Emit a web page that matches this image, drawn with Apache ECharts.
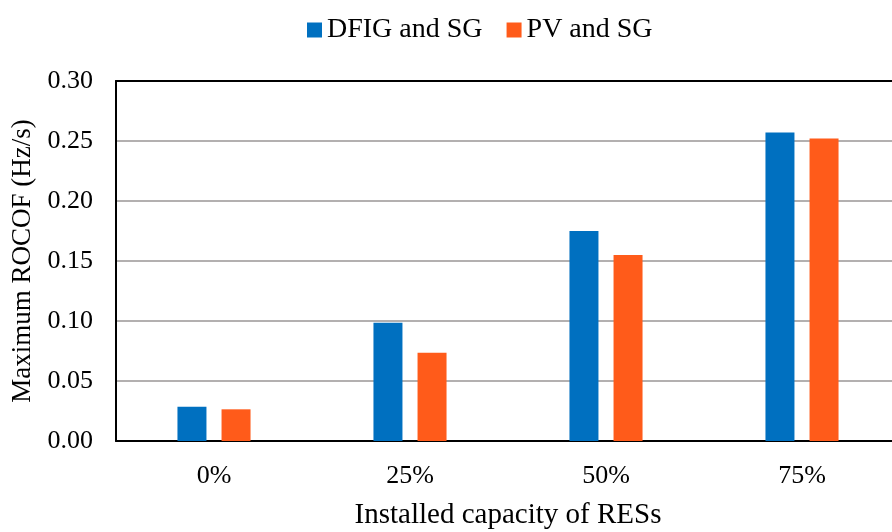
<!DOCTYPE html>
<html><head><meta charset="utf-8">
<script src="https://cdn.jsdelivr.net/npm/echarts@6/dist/echarts.min.js"></script>
<style>html,body{margin:0;padding:0;background:#fff}#c{width:892px;height:532px}</style>
</head><body><div id="c"></div>
<script>
const categories = ['0%', '25%', '50%', '75%'];
const dfigSG = [0.0286, 0.0985, 0.175, 0.257];
const pvSG = [0.0264, 0.0735, 0.155, 0.252];
const yTicks = [0, 0.05, 0.10, 0.15, 0.20, 0.25, 0.30];

const font = 'Liberation Serif';
const chart = echarts.init(document.getElementById('c'));
chart.setOption({
  animation: false,
  backgroundColor: '#fff',
  legend: {
    top: 11, left: 302,
    itemWidth: 15, itemHeight: 15, itemGap: 24,
    icon: 'rect',
    textStyle: { fontFamily: font, fontSize: 28, color: '#000' },
    data: ['DFIG and SG', 'PV and SG']
  },
  grid: { left: 116, top: 81, width: 784, bottom: 91, show: false,
    containLabel: false, outerBoundsMode: 'none' },
  xAxis: [{
    type: 'category', data: categories,
    axisLine: { lineStyle: { color: '#000', width: 2 } },
    axisTick: { show: false },
    axisLabel: { fontFamily: font, fontSize: 26, color: '#000', margin: 22 },
    name: 'Installed capacity of RESs', nameLocation: 'middle', nameGap: 60,
    nameTextStyle: { fontFamily: font, fontSize: 29, color: '#000' }
  }, {
    type: 'category', data: categories, position: 'top',
    axisLine: { show: true, lineStyle: { color: '#000', width: 2 } },
    axisTick: { show: false }, axisLabel: { show: false }, splitLine: { show: false }
  }],
  yAxis: {
    type: 'value', min: 0, max: 0.30, interval: 0.05,
    axisLine: { show: true, lineStyle: { color: '#000', width: 2 } },
    axisTick: { show: false },
    splitLine: { lineStyle: { color: '#B3B0B0', width: 2 } },
    axisLabel: { fontFamily: font, fontSize: 26, color: '#000', margin: 23,
      formatter: v => { const t = yTicks.find(x => Math.abs(x - v) < 1e-9); return (t === undefined ? v : t).toFixed(2); } },
    name: 'Maximum ROCOF (Hz/s)', nameLocation: 'middle', nameGap: 78,
    nameTextStyle: { fontFamily: font, fontSize: 27, color: '#000' }
  },
  series: [
    { name: 'DFIG and SG', type: 'bar', data: dfigSG, barWidth: 29, barGap: '52%', itemStyle: { color: '#0070C0' } },
    { name: 'PV and SG', type: 'bar', data: pvSG, barWidth: 29, itemStyle: { color: '#FF5B1A' } }
  ]
});
</script></body></html>
